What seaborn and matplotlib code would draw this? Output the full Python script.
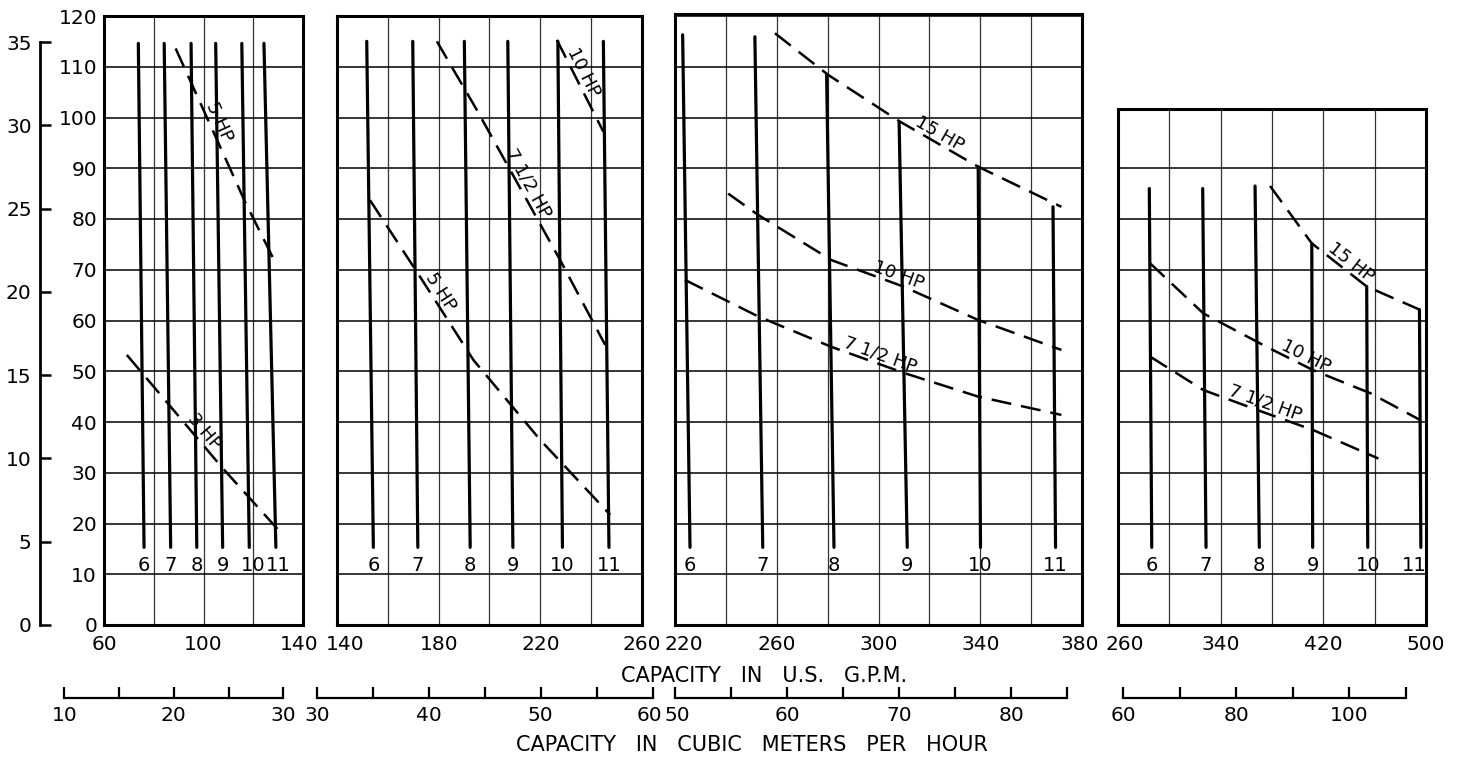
import numpy as np
import pandas as pd
import seaborn as sns
import matplotlib.pyplot as plt
import matplotlib.transforms as mtransforms

# ---- values: capacity in US gpm, head in ft ----
imp_sizes = ['6', '7', '8', '9', '10', '11']
imp_bot_ft = 15.3
imp_label_ft = 11.8

# panel 1 (60 - 140 gpm)
p1_imp_top_gpm = [73.8, 84.2, 95.0, 104.9, 115.4, 124.3]
p1_imp_top_ft = [114.6, 114.6, 114.6, 114.6, 114.6, 114.6]
p1_imp_bot_gpm = [76.1, 86.8, 97.3, 107.7, 118.4, 129.1]
p1_hp3_gpm = [69.2, 107.7, 132.0]
p1_hp3_ft = [53.2, 30.9, 17.7]
p1_hp5_gpm = [88.8, 116.7, 129.4]
p1_hp5_ft = [113.6, 83.4, 70.9]

# panel 2 (140 - 260 gpm)
p2_imp_top_gpm = [151.7, 169.8, 190.1, 207.2, 226.9, 244.8]
p2_imp_top_ft = [115.0, 115.0, 115.0, 115.0, 115.0, 115.0]
p2_imp_bot_gpm = [154.3, 171.8, 192.4, 209.2, 228.7, 247.0]
p2_hp5_gpm = [153.0, 172.7, 193.7, 219.9, 247.5]
p2_hp5_ft = [83.7, 68.6, 52.2, 36.5, 21.7]
p2_hp75_gpm = [179.3, 195.0, 227.8, 245.5]
p2_hp75_ft = [115.0, 101.5, 71.9, 55.2]
p2_hp10_gpm = [226.5, 244.8]
p2_hp10_ft = [115.3, 97.2]

# panel 3 (220 - 380 gpm)
p3_imp_top_gpm = [223.0, 251.4, 279.6, 308.1, 339.2, 368.6]
p3_imp_top_ft = [116.3, 115.9, 108.4, 99.2, 90.3, 82.4]
p3_imp_bot_gpm = [225.9, 254.5, 282.5, 311.3, 340.1, 369.6]
p3_hp15_gpm = [259.3, 280.2, 308.4, 339.2, 371.9]
p3_hp15_ft = [116.6, 108.4, 99.2, 90.3, 82.4]
p3_hp10_gpm = [240.9, 252.7, 281.5, 309.7, 339.2, 371.9]
p3_hp10_ft = [85.0, 80.8, 71.9, 66.7, 60.1, 54.2]
p3_hp75_gpm = [223.9, 252.7, 281.5, 310.4, 339.2, 371.9]
p3_hp75_ft = [68.0, 60.8, 54.8, 49.6, 45.0, 41.4]

# panel 4 (260 - 500 gpm)
p4_imp_top_gpm = [284.4, 326.0, 366.8, 411.0, 453.8, 494.9]
p4_imp_top_ft = [86.0, 86.0, 86.5, 75.2, 66.7, 62.1]
p4_imp_bot_gpm = [286.3, 328.6, 370.1, 411.7, 454.6, 496.0]
p4_hp15_gpm = [378.5, 411.0, 453.8, 495.4]
p4_hp15_ft = [86.5, 75.2, 66.7, 62.1]
p4_hp10_gpm = [284.9, 326.5, 375.9, 412.2, 456.4, 495.4]
p4_hp10_ft = [71.3, 61.4, 54.8, 50.2, 45.7, 40.4]
p4_hp75_gpm = [284.9, 326.5, 368.1, 412.2, 462.9]
p4_hp75_ft = [52.9, 46.3, 42.4, 38.4, 32.8]

# axis ticks
gpm_limits = [(60, 140), (140, 260), (220, 380), (260, 500)]
gpm_step = [20, 20, 20, 40]
gpm_labels = [[60, 100, 140], [140, 180, 220, 260],
              [220, 260, 300, 340, 380], [260, 340, 420, 500]]
head_ft_ticks = list(range(0, 121, 10))
m3h_limits = [(10, 30), (30, 60), (50, 85), (60, 110)]
m3h_step = [5, 5, 5, 10]
m3h_labels = [[10, 20, 30], [30, 40, 50, 60], [50, 60, 70, 80], [60, 80, 100]]
head_m_ticks = [0, 5, 10, 15, 20, 25, 30, 35]

GPM_PER_M3H = 4.402868
FT_PER_M = 3.28084

# ---- layout (pixels of the 1461 x 772 picture) ----
W, H = 1461, 772
base_px = 625
px_per_ft = (625 - 16) / 120.0
panel_px = [(104, 303, 16), (337, 642, 16), (675, 1082, 14), (1118, 1426, 109)]
# hand-lettered labels sit a little off their grid line / curve
gpm_shift_px = {(0, 140): -4, (1, 140): 8, (2, 220): 9, (2, 380): -2, (3, 260): 7}
m3h_shift_px = {(1, 60): -3, (2, 50): 2}
imp_shift_px = {(0, '10'): 4, (0, '11'): 2, (3, '11'): -7}

sns.set_style('white')
plt.rcParams['font.family'] = ['DejaVu Sans']
for k in ['text.color', 'axes.labelcolor', 'xtick.color', 'ytick.color', 'axes.edgecolor']:
    plt.rcParams[k] = 'black'
fig = plt.figure(figsize=(W / 100, H / 100), dpi=100)


def frac_box(x0, x1, ytop, ybot):
    return [x0 / W, 1 - ybot / H, (x1 - x0) / W, (ybot - ytop) / H]


def px_offset(dx):
    return mtransforms.ScaledTranslation(dx / 100, 0, fig.dpi_scale_trans)


def shift_labels(axis_obj, ticks, shifts, i):
    for lab, v in zip(axis_obj.get_xticklabels(), ticks):
        dx = shifts.get((i, v), 0)
        if dx:
            lab.set_transform(lab.get_transform() + px_offset(dx))


def panel_frame(top_gpm, top_ft, bot_gpm, hp):
    rows = []
    for s, xt, yt, xb in zip(imp_sizes, top_gpm, top_ft, bot_gpm):
        rows.append((xt, yt, 'imp' + s, 'imp'))
        rows.append((xb, imp_bot_ft, 'imp' + s, 'imp'))
    for name, xs, ys, _ in hp:
        for x, y in zip(xs, ys):
            rows.append((x, y, name, 'hp'))
    return pd.DataFrame(rows, columns=['gpm', 'ft', 'curve', 'kind'])


def label_along(ax, xs, ys, x0, text):
    y0 = np.interp(x0, xs, ys)
    a = ax.transData.transform((x0 - 1, np.interp(x0 - 1, xs, ys)))
    b = ax.transData.transform((x0 + 1, np.interp(x0 + 1, xs, ys)))
    ang = np.degrees(np.arctan2(b[1] - a[1], b[0] - a[0]))
    ax.text(x0, y0, text, rotation=ang, rotation_mode='anchor',
            ha='center', va='bottom', fontsize=13, color='black')


panels = [
    (p1_imp_top_gpm, p1_imp_top_ft, p1_imp_bot_gpm,
     [('3 HP', p1_hp3_gpm, p1_hp3_ft, 97.4), ('5 HP', p1_hp5_gpm, p1_hp5_ft, 102.9)]),
    (p2_imp_top_gpm, p2_imp_top_ft, p2_imp_bot_gpm,
     [('5 HP', p2_hp5_gpm, p2_hp5_ft, 177.8), ('7 1/2 HP', p2_hp75_gpm, p2_hp75_ft, 212.0),
      ('10 HP', p2_hp10_gpm, p2_hp10_ft, 233.7)]),
    (p3_imp_top_gpm, p3_imp_top_ft, p3_imp_bot_gpm,
     [('15 HP', p3_hp15_gpm, p3_hp15_ft, 322.0), ('10 HP', p3_hp10_gpm, p3_hp10_ft, 306.5),
      ('7 1/2 HP', p3_hp75_gpm, p3_hp75_ft, 299.5)]),
    (p4_imp_top_gpm, p4_imp_top_ft, p4_imp_bot_gpm,
     [('15 HP', p4_hp15_gpm, p4_hp15_ft, 437.0), ('10 HP', p4_hp10_gpm, p4_hp10_ft, 403.0),
      ('7 1/2 HP', p4_hp75_gpm, p4_hp75_ft, 372.0)]),
]

for i, (top_gpm, top_ft, bot_gpm, hp) in enumerate(panels):
    x0, x1, ytop = panel_px[i]
    ax = fig.add_axes(frac_box(x0, x1, ytop, base_px))
    lo, hi = gpm_limits[i]
    ymax = (base_px - ytop) / px_per_ft

    xt = list(range(lo, hi + 1, gpm_step[i]))
    ax.set_xticks(xt)
    ax.set_xticklabels([str(v) if v in gpm_labels[i] else '' for v in xt])
    yt = [v for v in head_ft_ticks if v <= ymax - 2 or abs(v - ymax) < 0.5]
    ax.set_yticks(yt)
    if i == 0:
        ax.set_yticklabels([str(v) for v in yt])
    else:
        ax.set_yticklabels([])
    ax.set_xlim(lo, hi)
    ax.set_ylim(0, ymax)
    ax.tick_params(length=0, labelsize=14.5)
    ax.tick_params(axis='x', pad=7)
    ax.tick_params(axis='y', pad=5)
    ax.grid(True, axis='y', color='black', lw=1.1)
    ax.grid(True, axis='x', color='#333333', lw=0.9)
    ax.set_axisbelow(True)
    for sp in ax.spines.values():
        sp.set_visible(True)
        sp.set_color('black')
        sp.set_linewidth(2.2)
    shift_labels(ax, xt, gpm_shift_px, i)

    df = panel_frame(top_gpm, top_ft, bot_gpm, hp)
    sns.lineplot(data=df, x='gpm', y='ft', units='curve', estimator=None,
                 style='kind', dashes={'imp': '', 'hp': (8, 4)},
                 size='kind', sizes={'imp': 2.3, 'hp': 1.8},
                 color='black', sort=False, legend=False, ax=ax)
    ax.set_xlabel('')
    ax.set_ylabel('')

    for s, xb in zip(imp_sizes, bot_gpm):
        t = ax.text(xb, imp_label_ft, s, ha='center', va='center', fontsize=14)
        dx = imp_shift_px.get((i, s), 0)
        if dx:
            t.set_transform(ax.transData + px_offset(dx))
    for name, xs, ys, xl in hp:
        label_along(ax, xs, ys, xl, name)

    # cubic metres per hour scale under the panel
    mlo, mhi = m3h_limits[i]
    to_px = lambda g: x0 + (g - lo) * (x1 - x0) / (hi - lo)
    axm = fig.add_axes([to_px(mlo * GPM_PER_M3H) / W, 1 - 698 / H,
                        (to_px(mhi * GPM_PER_M3H) - to_px(mlo * GPM_PER_M3H)) / W, 0.0001])
    mt = list(range(mlo, mhi + 1, m3h_step[i]))
    axm.set_xticks(mt)
    axm.set_xticklabels([str(v) if v in m3h_labels[i] else '' for v in mt])
    axm.set_xlim(mlo, mhi)
    axm.set_yticks([])
    axm.patch.set_visible(False)
    for k in ['top', 'left', 'right']:
        axm.spines[k].set_visible(False)
    axm.spines['bottom'].set_linewidth(1.6)
    axm.tick_params(axis='x', bottom=True, direction='in', length=8, width=1.6,
                    labelsize=14.5, pad=6)
    shift_labels(axm, mt, m3h_shift_px, i)

# head in metres on the far left
m_top_px = base_px - 35 * FT_PER_M * px_per_ft
axh = fig.add_axes([40 / W, 1 - base_px / H, 0.0001, (base_px - m_top_px) / H])
axh.set_yticks(head_m_ticks)
axh.set_yticklabels([str(v) for v in head_m_ticks])
axh.set_ylim(0, 35)
axh.set_xticks([])
axh.patch.set_visible(False)
for k in ['top', 'bottom', 'right']:
    axh.spines[k].set_visible(False)
axh.spines['left'].set_linewidth(2.0)
axh.tick_params(axis='y', left=True, direction='in', length=8, width=1.8,
                labelsize=14.5, pad=6)

fig.text(764 / W, 1 - 676 / H, 'CAPACITY   IN   U.S.   G.P.M.',
         ha='center', va='center', fontsize=15)
fig.text(752 / W, 1 - 745 / H, 'CAPACITY   IN   CUBIC   METERS   PER   HOUR',
         ha='center', va='center', fontsize=15)

fig.savefig('out.png', dpi=100, facecolor='white')
